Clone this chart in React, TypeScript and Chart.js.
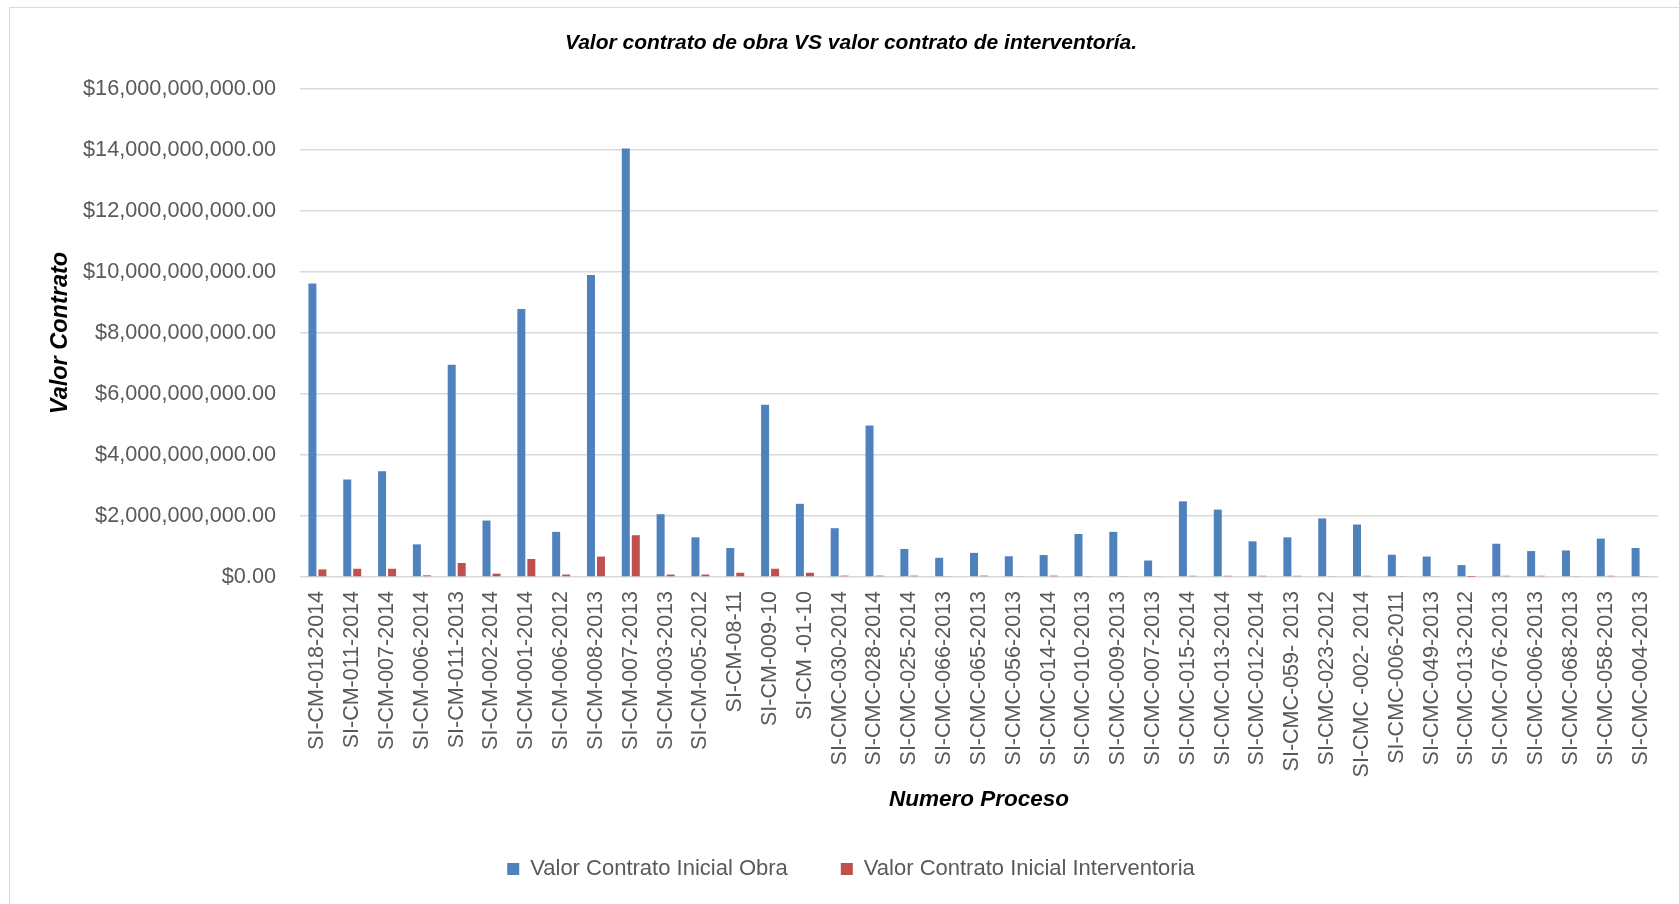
import React, { useEffect, useRef } from 'react';
import { Chart, registerables } from 'chart.js';

Chart.register(...registerables);

const chartTitle = 'Valor contrato de obra VS valor contrato de interventoría.';
const yAxisTitle = 'Valor Contrato';
const xAxisTitle = 'Numero Proceso';
const seriesNames = ['Valor Contrato Inicial Obra', 'Valor Contrato Inicial Interventoria'];

const categories = [
  'SI-CM-018-2014', 'SI-CM-011-2014', 'SI-CM-007-2014', 'SI-CM-006-2014', 'SI-CM-011-2013',
  'SI-CM-002-2014', 'SI-CM-001-2014', 'SI-CM-006-2012', 'SI-CM-008-2013', 'SI-CM-007-2013',
  'SI-CM-003-2013', 'SI-CM-005-2012', 'SI-CM-08-11', 'SI-CM-009-10', 'SI-CM -01-10',
  'SI-CMC-030-2014', 'SI-CMC-028-2014', 'SI-CMC-025-2014', 'SI-CMC-066-2013', 'SI-CMC-065-2013',
  'SI-CMC-056-2013', 'SI-CMC-014-2014', 'SI-CMC-010-2013', 'SI-CMC-009-2013', 'SI-CMC-007-2013',
  'SI-CMC-015-2014', 'SI-CMC-013-2014', 'SI-CMC-012-2014', 'SI-CMC-059- 2013', 'SI-CMC-023-2012',
  'SI-CMC -002- 2014', 'SI-CMC-006-2011', 'SI-CMC-049-2013', 'SI-CMC-013-2012', 'SI-CMC-076-2013',
  'SI-CMC-006-2013', 'SI-CMC-068-2013', 'SI-CMC-058-2013', 'SI-CMC-004-2013',
];

const obraValues = [
  9620000000, 3200000000, 3470000000, 1070000000, 6960000000,
  1850000000, 8790000000, 1480000000, 9900000000, 14050000000,
  2060000000, 1300000000, 950000000, 5650000000, 2400000000,
  1600000000, 4970000000, 920000000, 630000000, 790000000,
  680000000, 720000000, 1410000000, 1480000000, 540000000,
  2480000000, 2210000000, 1170000000, 1300000000, 1920000000,
  1720000000, 730000000, 670000000, 390000000, 1090000000,
  850000000, 870000000, 1260000000, 950000000,
];

const interventoriaValues = [
  250000000, 270000000, 270000000, 55000000, 460000000,
  110000000, 590000000, 80000000, 670000000, 1370000000,
  80000000, 80000000, 140000000, 270000000, 140000000,
  45000000, 45000000, 45000000, 20000000, 45000000,
  20000000, 45000000, 20000000, 20000000, 20000000,
  40000000, 40000000, 40000000, 40000000, 20000000,
  40000000, 20000000, 20000000, 5000000, 40000000,
  40000000, 20000000, 40000000, 20000000,
];

const yMin = 0;
const yMax = 16000000000;
const yStep = 2000000000;

const FONT = "'Liberation Sans', Arial, sans-serif";

export default function App() {
  const ref = useRef<HTMLCanvasElement>(null);

  useEffect(() => {
    const canvas = ref.current;
    if (!canvas) return;
    const chart = new Chart(canvas, {
      type: 'bar',
      data: {
        labels: categories,
        datasets: [
          {
            label: seriesNames[0],
            data: obraValues,
            backgroundColor: '#4F81BD',
            categoryPercentage: 0.574,
            barPercentage: 0.8,
          },
          {
            label: seriesNames[1],
            data: interventoriaValues,
            backgroundColor: '#C0504D',
            categoryPercentage: 0.574,
            barPercentage: 0.8,
          },
        ],
      },
      options: {
        responsive: false,
        animation: false,
        layout: { padding: { left: 0, right: 0, top: 0, bottom: 0 } },
        plugins: {
          title: {
            display: true,
            text: chartTitle,
            color: '#000000',
            font: { family: FONT, size: 21, weight: 'bold', style: 'italic', lineHeight: 1.2 },
            padding: { top: 22.4, bottom: 33.4 },
          },
          legend: {
            display: true,
            position: 'bottom',
            labels: {
              color: '#595959',
              font: { family: FONT, size: 22 },
              boxWidth: 12,
              boxHeight: 12,
              padding: 53,
            },
          },
          tooltip: { enabled: false },
        },
        scales: {
          x: {
            grid: { display: false, drawTicks: false },
            border: { display: false },
            ticks: {
              color: '#595959',
              font: { family: FONT, size: 21.5 },
              maxRotation: 90,
              minRotation: 90,
              autoSkip: false,
              padding: 14,
            },
            title: {
              display: true,
              text: xAxisTitle,
              color: '#000000',
              font: { family: FONT, size: 22.5, weight: 'bold', style: 'italic', lineHeight: '10px' },
              padding: { top: 0, bottom: 0 },
            },
            afterFit: (s: any) => { s.height = 228; },
          },
          y: {
            min: yMin,
            max: yMax,
            grid: { color: '#D9D9D9', lineWidth: 1.5, drawTicks: false },
            border: { display: false },
            ticks: {
              stepSize: yStep,
              color: '#595959',
              font: { family: FONT, size: 21.7 },
              padding: 24,
              callback: (v: any) =>
                '$' + Number(v).toLocaleString('en-US', { minimumFractionDigits: 2, maximumFractionDigits: 2 }),
            },
            title: {
              display: true,
              text: yAxisTitle,
              color: '#000000',
              font: { family: FONT, size: 23.5, weight: 'bold', style: 'italic', lineHeight: 1.2 },
              padding: { top: 36.9, bottom: 0 },
            },
            afterFit: (s: any) => { s.width = 290; },
          },
          yRight: {
            position: 'right',
            display: true,
            grid: { display: false, drawTicks: false },
            border: { display: false },
            ticks: { display: false },
            afterFit: (s: any) => { s.width = 34; },
          },
        },
      },
    } as any);
    return () => chart.destroy();
  }, []);

  return (
    <div style={{ position: 'fixed', left: 0, top: 0, width: 1679, height: 904, overflow: 'hidden', background: '#ffffff' }}>
      <div
        style={{
          position: 'absolute', left: 9, top: 7, width: 1720, height: 980,
          borderLeft: '1px solid #D9D9D9', borderTop: '1px solid #D9D9D9',
        }}
      />
      <div style={{ position: 'absolute', left: 10, top: 8, width: 1682, height: 882 }}>
        <canvas ref={ref} width={1682} height={882} style={{ width: 1682, height: 882, display: 'block' }} />
      </div>
    </div>
  );
}
